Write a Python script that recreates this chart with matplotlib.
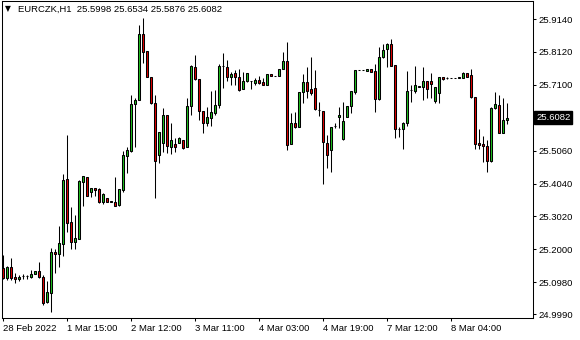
import matplotlib
matplotlib.use("Agg")
import matplotlib.pyplot as plt
import matplotlib.transforms as mtransforms

# EURCZK H1 candles
opens = [25.141, 25.110, 25.144, 25.113, 25.109, 25.116, 25.116, 25.115, 25.124, 25.132,
         25.115, 25.038, 25.064, 25.191, 25.185, 25.216, 25.417, 25.285, 25.224, 25.232,
         25.410, 25.423, 25.379, 25.389, 25.386, 25.348, 25.358, 25.349, 25.347, 25.337,
         25.384, 25.490, 25.506, 25.650, 25.663, 25.868, 25.815, 25.733, 25.655, 25.492,
         25.531, 25.616, 25.518, 25.526, 25.531, 25.539, 25.518, 25.644, 25.766, 25.727,
         25.629, 25.593, 25.606, 25.624, 25.646, 25.768, 25.764, 25.735, 25.746, 25.733,
         25.696, 25.723, 25.721, 25.717, 25.724, 25.719, 25.708, 25.743, 25.736, 25.736,
         25.758, 25.785, 25.526, 25.591, 25.580, 25.687, 25.718, 25.696, 25.699, 25.632,
         25.630, 25.529, 25.508, 25.583, 25.609, 25.541, 25.609, 25.644, 25.689, 25.755,
         25.755, 25.754, 25.758, 25.754, 25.666, 25.795, 25.820, 25.836, 25.771, 25.574,
         25.572, 25.591, 25.693, 25.692, 25.702, 25.702, 25.723, 25.723, 25.661, 25.684,
         25.733, 25.731, 25.730, 25.731, 25.730, 25.730, 25.748, 25.740, 25.673, 25.529,
         25.526, 25.521, 25.474, 25.637, 25.647, 25.560, 25.5998]
highs = [25.182, 25.148, 25.173, 25.126, 25.120, 25.124, 25.121, 25.136, 25.133, 25.160,
         25.120, 25.102, 25.203, 25.201, 25.272, 25.433, 25.554, 25.330, 25.306, 25.415,
         25.427, 25.425, 25.390, 25.390, 25.389, 25.374, 25.359, 25.350, 25.425, 25.387,
         25.506, 25.518, 25.678, 25.668, 25.895, 25.916, 25.815, 25.733, 25.678, 25.563,
         25.637, 25.616, 25.591, 25.544, 25.549, 25.539, 25.668, 25.771, 25.802, 25.727,
         25.629, 25.642, 25.691, 25.694, 25.775, 25.808, 25.787, 25.749, 25.756, 25.758,
         25.749, 25.746, 25.722, 25.732, 25.737, 25.730, 25.743, 25.743, 25.737, 25.758,
         25.811, 25.844, 25.624, 25.627, 25.687, 25.744, 25.766, 25.795, 25.756, 25.658,
         25.630, 25.554, 25.580, 25.591, 25.640, 25.658, 25.644, 25.691, 25.755, 25.755,
         25.755, 25.760, 25.758, 25.775, 25.828, 25.837, 25.841, 25.852, 25.771, 25.580,
         25.595, 25.754, 25.709, 25.768, 25.706, 25.766, 25.723, 25.746, 25.704, 25.733,
         25.733, 25.735, 25.730, 25.731, 25.735, 25.751, 25.748, 25.758, 25.673, 25.572,
         25.551, 25.539, 25.640, 25.687, 25.678, 25.668, 25.6534]
lows = [25.108, 25.105, 25.105, 25.095, 25.103, 25.107, 25.109, 25.112, 25.123, 25.111,
        25.027, 25.035, 25.007, 25.127, 25.146, 25.180, 25.254, 25.200, 25.201, 25.231,
        25.334, 25.366, 25.363, 25.366, 25.345, 25.340, 25.347, 25.347, 25.334, 25.334,
        25.379, 25.436, 25.503, 25.518, 25.663, 25.777, 25.733, 25.651, 25.358, 25.467,
        25.503, 25.498, 25.495, 25.503, 25.529, 25.510, 25.518, 25.616, 25.725, 25.601,
        25.562, 25.582, 25.582, 25.616, 25.639, 25.699, 25.723, 25.709, 25.709, 25.692,
        25.696, 25.720, 25.696, 25.709, 25.712, 25.708, 25.708, 25.736, 25.736, 25.736,
        25.758, 25.508, 25.526, 25.575, 25.580, 25.653, 25.668, 25.678, 25.632, 25.613,
        25.402, 25.451, 25.441, 25.577, 25.575, 25.539, 25.609, 25.622, 25.681, 25.755,
        25.755, 25.754, 25.750, 25.627, 25.663, 25.793, 25.764, 25.769, 25.544, 25.549,
        25.512, 25.582, 25.658, 25.686, 25.702, 25.663, 25.668, 25.668, 25.653, 25.653,
        25.725, 25.727, 25.730, 25.731, 25.730, 25.730, 25.735, 25.668, 25.510, 25.510,
        25.472, 25.441, 25.472, 25.634, 25.560, 25.560, 25.5876]
closes = [25.110, 25.144, 25.112, 25.107, 25.115, 25.117, 25.117, 25.124, 25.132, 25.113,
          25.035, 25.067, 25.191, 25.185, 25.219, 25.415, 25.283, 25.224, 25.234, 25.412,
          25.427, 25.366, 25.389, 25.384, 25.346, 25.371, 25.348, 25.348, 25.335, 25.386,
          25.492, 25.508, 25.651, 25.663, 25.868, 25.813, 25.733, 25.653, 25.475, 25.563,
          25.616, 25.520, 25.539, 25.516, 25.544, 25.513, 25.644, 25.768, 25.727, 25.629,
          25.591, 25.609, 25.626, 25.646, 25.768, 25.767, 25.735, 25.744, 25.733, 25.694,
          25.721, 25.746, 25.721, 25.725, 25.717, 25.708, 25.743, 25.736, 25.736, 25.758,
          25.785, 25.522, 25.591, 25.580, 25.687, 25.718, 25.692, 25.684, 25.634, 25.631,
          25.532, 25.491, 25.580, 25.583, 25.616, 25.598, 25.644, 25.691, 25.755, 25.755,
          25.755, 25.760, 25.750, 25.666, 25.795, 25.818, 25.836, 25.769, 25.572, 25.574,
          25.591, 25.692, 25.693, 25.708, 25.706, 25.723, 25.696, 25.713, 25.704, 25.733,
          25.728, 25.731, 25.730, 25.731, 25.735, 25.748, 25.735, 25.673, 25.526, 25.523,
          25.521, 25.474, 25.637, 25.651, 25.560, 25.601, 25.6082]

time_ticks = [0, 16, 32, 48, 64, 80, 96, 112]
time_labels = ['28 Feb 2022', '1 Mar 15:00', '2 Mar 12:00', '3 Mar 11:00',
               '4 Mar 03:00', '4 Mar 19:00', '7 Mar 12:00', '8 Mar 04:00']
price_ticks = [24.999, 25.098, 25.200, 25.302, 25.404, 25.506, 25.710, 25.812, 25.914]
symbol = 'EURCZK,H1'

plt.rcParams['font.family'] = ['Liberation Sans', 'DejaVu Sans']

fig = plt.figure(figsize=(5.8, 3.4), dpi=100)
ax = fig.add_axes([2/580, 1 - 318/340, 531/580, 317/340])

x = list(range(len(opens)))
up = [c >= o for o, c in zip(opens, closes)]
colors = ['#1fc01f' if u else '#e00000' for u in up]
bottoms = [min(o, c) for o, c in zip(opens, closes)]
heights = [abs(c - o) for o, c in zip(opens, closes)]

ax.vlines(x, lows, highs, color='black', linewidth=0.75, zorder=1)
ax.bar(x, heights, bottom=bottoms, width=0.62, color=colors,
       edgecolor='black', linewidth=0.75, zorder=2)

ax.set_xlim(-0.25, 132.5)
ax.set_ylim(24.987, 25.970)

ax.yaxis.tick_right()
ax.set_yticks(price_ticks)
ax.set_yticklabels([f'{p:.4f}' for p in price_ticks])
ax.set_xticks(time_ticks)
ax.set_xticklabels(time_labels, ha='left')
ax.tick_params(axis='both', direction='out', length=2.5, width=0.75,
               labelsize=6.8, colors='black', pad=1.5)
for s in ax.spines.values():
    s.set_linewidth(0.75)
    s.set_color('black')

# current price marker
trans = mtransforms.blended_transform_factory(ax.transAxes, ax.transData)
ax.text(1.006, closes[-1], f'{closes[-1]:.4f}', transform=trans, color='white',
        fontsize=6.8, va='center', ha='left',
        bbox=dict(facecolor='black', edgecolor='black', pad=1.2))

# header
ax.text(0.006, 0.975, '\u25bc', transform=ax.transAxes, fontsize=5.5,
        va='center', ha='left', family=['DejaVu Sans'])
ax.text(0.03, 0.975,
        f'{symbol}  {opens[-1]:.4f} {highs[-1]:.4f} {lows[-1]:.4f} {closes[-1]:.4f}',
        transform=ax.transAxes, fontsize=6.8, va='center', ha='left')

plt.savefig('out.png', dpi=100)
